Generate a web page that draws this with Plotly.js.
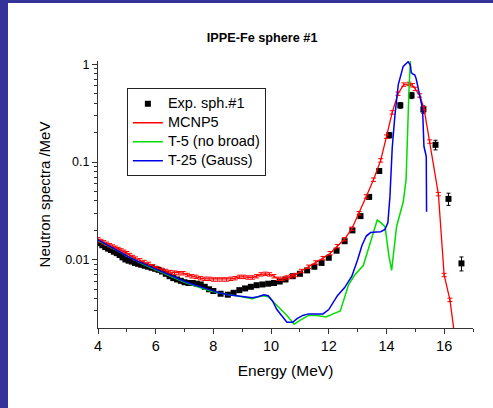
<!DOCTYPE html>
<html>
<head>
<meta charset="utf-8">
<script src="https://cdn.plot.ly/plotly-3.0.1.min.js"></script>
<style>
html,body{margin:0;padding:0;background:#333399;width:493px;height:408px;overflow:hidden;}
#chart{position:absolute;left:8px;top:3px;width:485px;height:405px;background:#fff;}
</style>
</head>
<body>
<div id="chart"></div>
<script>
// Experimental data (Exp. sph.#1)
const expE = [4.05,4.15,4.25,4.35,4.45,4.55,4.65,4.75,4.85,4.95,5.06,5.17,5.28,5.39,5.50,5.62,5.74,5.86,5.98,6.10,6.22,6.35,6.48,6.61,6.74,6.87,7.00,7.14,7.28,7.42,7.56,7.70,7.85,8.00,8.25,8.50,8.70,8.90,9.10,9.30,9.50,9.70,9.90,10.10,10.30,10.50,10.75,11.00,11.25,11.50,11.75,12.00,12.27,12.55,12.82,13.10,13.40,13.75,14.10,14.48,14.87,15.28,15.70,16.15,16.60];
const expV = [0.0148,0.0141,0.0135,0.0130,0.0126,0.0121,0.0117,0.0112,0.0106,0.0101,0.0098,0.0096,0.0093,0.0091,0.0089,0.0087,0.0085,0.0083,0.0081,0.0079,0.0076,0.0072,0.0068,0.0065,0.0063,0.0061,0.0059,0.0058,0.0058,0.0057,0.0056,0.0053,0.0050,0.0048,0.0045,0.0044,0.0046,0.0049,0.0051,0.0053,0.0055,0.0056,0.0057,0.0058,0.0060,0.0063,0.0068,0.0072,0.0078,0.0085,0.0093,0.0105,0.0124,0.0155,0.0200,0.0280,0.0440,0.0810,0.1880,0.3800,0.4800,0.3450,0.1500,0.0420,0.0092];
const expErr = [0,0,0,0,0,0,0,0,0,0,0,0,0,0,0,0,0,0,0,0,0,0,0,0,0,0,0,0,0,0,0,0,0,0,0,0,0,0,0,0,0,0,0,0,0,0,0,0,0,0,0,0,0,0,0,0,0.002,0.004,0.012,0.025,0.035,0.030,0.017,0.006,0.0015];

// MCNP5
const mcnpE = [4.0,4.1,4.2,4.3,4.4,4.5,4.6,4.7,4.8,4.9,5.0,5.1,5.2,5.3,5.45,5.6,5.75,5.9,6.05,6.2,6.35,6.5,6.65,6.8,6.95,7.1,7.25,7.4,7.55,7.7,7.85,8.0,8.15,8.3,8.45,8.6,8.75,8.9,9.05,9.2,9.35,9.5,9.65,9.8,9.95,10.1,10.25,10.4,10.55,10.7,10.85,11.05,11.3,11.55,11.8,12.05,12.3,12.55,12.8,13.05,13.3,13.55,13.8,14.0,14.2,14.4,14.6,14.78,14.9,15.0,15.15,15.3,15.5,15.8,16.0,16.2,16.4];
const mcnpV = [0.0162,0.0156,0.0151,0.0146,0.0141,0.0137,0.0133,0.0129,0.0125,0.0121,0.0117,0.0112,0.0107,0.0103,0.0099,0.0095,0.0091,0.0086,0.0082,0.0079,0.0077,0.0075,0.0074,0.0073,0.0073,0.0070,0.0068,0.0067,0.0065,0.0064,0.0064,0.0063,0.0063,0.0063,0.0063,0.0064,0.0065,0.0067,0.0067,0.0066,0.0066,0.0068,0.0071,0.0072,0.0071,0.0068,0.0064,0.0064,0.0066,0.0068,0.0070,0.0077,0.0085,0.0094,0.0104,0.0117,0.0138,0.0163,0.0208,0.0300,0.0445,0.0660,0.1040,0.1820,0.3220,0.5000,0.6200,0.6300,0.6100,0.5600,0.4800,0.3550,0.1620,0.0470,0.0070,0.0039,0.0014];

// T-5 (no broad)
const t5E = [4.0,4.3,4.6,4.9,5.2,5.5,5.8,6.1,6.4,6.7,7.0,7.3,7.6,7.9,8.2,8.5,8.8,9.1,9.35,9.55,9.75,9.9,10.1,10.3,10.55,10.8,11.0,11.3,11.6,11.9,12.15,12.4,12.68,12.9,13.2,13.45,13.68,13.8,13.95,14.09,14.18,14.35,14.5,14.58,14.68,14.72,14.78,14.84];
const t5V = [0.0158,0.0142,0.0127,0.0113,0.0101,0.0092,0.0084,0.0077,0.0070,0.0064,0.0059,0.0055,0.0051,0.0048,0.0046,0.0044,0.0043,0.0041,0.0040,0.0042,0.0043,0.0042,0.0037,0.0032,0.0027,0.0022,0.0024,0.0027,0.0027,0.0026,0.0028,0.0030,0.0055,0.0070,0.0088,0.0150,0.0255,0.0240,0.0218,0.0107,0.0078,0.0218,0.0320,0.0390,0.0660,0.1670,0.5400,1.2500];

// T-25 (Gauss)
const t25E = [4.0,4.3,4.6,4.9,5.2,5.5,5.8,6.1,6.4,6.7,7.0,7.3,7.6,7.9,8.2,8.5,8.8,9.1,9.35,9.55,9.75,9.9,10.05,10.2,10.4,10.55,10.75,10.9,11.1,11.3,11.55,11.8,12.0,12.15,12.3,12.55,12.8,13.0,13.15,13.3,13.45,13.65,13.8,13.95,14.05,14.12,14.2,14.29,14.41,14.58,14.75,14.83,14.86,14.93,14.98,15.03,15.1,15.22,15.26,15.3,15.38,15.39];
const t25V = [0.0160,0.0143,0.0128,0.0114,0.0102,0.0093,0.0085,0.0078,0.0071,0.0065,0.0060,0.0056,0.0052,0.0049,0.0046,0.0044,0.0043,0.0042,0.0041,0.0042,0.0044,0.0043,0.0038,0.0031,0.0026,0.0023,0.0023,0.0025,0.0027,0.0028,0.0028,0.0028,0.0031,0.0037,0.0043,0.0052,0.0068,0.0100,0.0140,0.0175,0.0190,0.0193,0.0194,0.0205,0.0240,0.0440,0.1400,0.2930,0.6200,0.9500,1.0600,0.9800,0.8200,0.7900,0.7800,0.7100,0.5500,0.3860,0.3000,0.1440,0.1140,0.0310];

const seriesNames = ['Exp. sph.#1', 'MCNP5', 'T-5 (no broad)', 'T-25 (Gauss)'];

const xTickVals = [4,6,8,10,12,14,16];
const xTickText = ['4','6','8','10','12','14','16'];
const yTickVals = [0.01,0.1,1];
const yTickText = ['0.01','0.1','1'];

const FONT = 'Arial, "Liberation Sans", sans-serif';
const legName = n => '<span style="font-size:14.5px">' + n + '</span>';

const traces = [
  {x: expE, y: expV, name: legName(seriesNames[0]), type: 'scatter', mode: 'markers',
   marker: {symbol: 'square', size: 6, color: '#000'},
   error_y: {type: 'data', array: expErr, visible: true, color: '#000', thickness: 1, width: 2}},
  {x: mcnpE, y: mcnpV, name: legName(seriesNames[1]), type: 'scatter', mode: 'lines',
   line: {color: '#ff0000', width: 1.3},
   error_y: {type: 'percent', value: 4, visible: true, color: '#ff0000', thickness: 1, width: 2.5}},
  {x: t5E, y: t5V, name: legName(seriesNames[2]), type: 'scatter', mode: 'lines',
   line: {color: '#00dd00', width: 1.5}},
  {x: t25E, y: t25V, name: legName(seriesNames[3]), type: 'scatter', mode: 'lines',
   line: {color: '#0000ee', width: 1.5}}
];

const layout = {
  width: 485, height: 405,
  paper_bgcolor: '#fff', plot_bgcolor: '#fff',
  margin: {l: 90, r: 20, t: 58, b: 80},
  font: {family: FONT, color: '#000'},
  title: {text: '<b>IPPE-Fe sphere #1</b>', font: {family: FONT, size: 12.7, color: '#000'},
          x: 0.524, xref: 'container', xanchor: 'center', y: 0.914, yref: 'container', yanchor: 'middle'},
  showlegend: true,
  legend: {x: 0.077, y: 0.898, xanchor: 'left', yanchor: 'top',
           bgcolor: '#fff', bordercolor: '#222', borderwidth: 1,
           font: {family: FONT, size: 10.6, color: '#000'}},
  xaxis: {
    type: 'linear', range: [4, 17], autorange: false,
    tickmode: 'array', tickvals: xTickVals, ticktext: xTickText,
    ticks: 'outside', ticklen: 5, tickwidth: 1, tickcolor: '#333',
    minor: {tickmode: 'linear', tick0: 5, dtick: 2, ticks: 'outside', ticklen: 3, tickcolor: '#333', showgrid: false},
    showline: true, linecolor: '#333', linewidth: 1, mirror: false,
    showgrid: false, zeroline: false,
    tickfont: {family: FONT, size: 14.5, color: '#000'},
    title: {text: 'Energy (MeV)', font: {family: FONT, size: 15.5, color: '#000'}, standoff: 11}
  },
  yaxis: {
    type: 'log', range: [-2.697, 0.033], autorange: false,
    tickmode: 'array', tickvals: yTickVals, ticktext: yTickText,
    ticks: 'outside', ticklen: 5, tickwidth: 1, tickcolor: '#333',
    minor: {tickmode: 'array',
            tickvals: [0.002,0.003,0.004,0.005,0.006,0.007,0.008,0.009,0.02,0.03,0.04,0.05,0.06,0.07,0.08,0.09,0.2,0.3,0.4,0.5,0.6,0.7,0.8,0.9],
            ticks: 'outside', ticklen: 3, tickcolor: '#333', showgrid: false},
    showline: true, linecolor: '#333', linewidth: 1, mirror: false,
    showgrid: false, zeroline: false,
    tickfont: {family: FONT, size: 12.5, color: '#000'},
    title: {text: 'Neutron spectra /MeV', font: {family: FONT, size: 15, color: '#000'}, standoff: 10}
  }
};

Plotly.newPlot('chart', traces, layout, {displayModeBar: false, staticPlot: true});
</script>
</body>
</html>
